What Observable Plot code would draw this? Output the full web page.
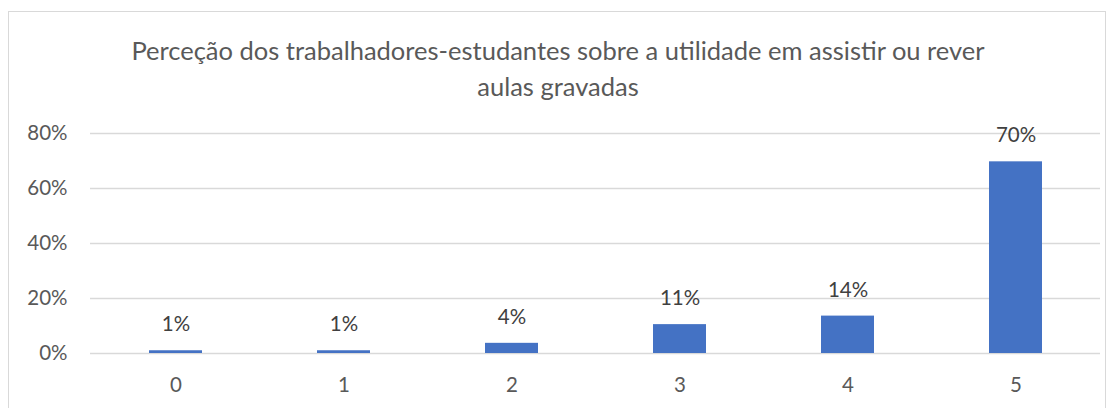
<!DOCTYPE html>
<html><head><meta charset="utf-8">
<script src="https://cdn.jsdelivr.net/npm/d3@7"></script>
<script src="https://cdn.jsdelivr.net/npm/@observablehq/plot@0.6"></script>
<style>
body{margin:0;background:#fff;font-family:Lato,"Noto Sans",sans-serif;}
#wrap{position:relative;width:1116px;height:408px;overflow:hidden;}
#frame{position:absolute;left:8px;top:11px;width:1098px;height:420px;border:1px solid #d9d9d9;box-sizing:border-box;}
#title{position:absolute;left:0;top:0;width:1116px;height:110px;text-align:center;color:#595959;font-size:25.5px;line-height:36px;padding-top:32px;box-sizing:border-box;}
#chart{position:absolute;left:0;top:110px;}
</style></head>
<body><div id="wrap"><div id="frame"></div>
<div id="title">Perceção dos trabalhadores-estudantes sobre a utilidade em assistir ou rever<br>aulas gravadas</div>
<div id="chart"></div></div>
<script>
const categories = ["0","1","2","3","4","5"];
const values = [0.010, 0.010, 0.037, 0.105, 0.136, 0.697];
const labels = ["1%","1%","4%","11%","14%","70%"];
const yTicks = [0, 0.2, 0.4, 0.6, 0.8];
const data = categories.map((c,i)=>({c, v: values[i], l: labels[i]}));
const plot = Plot.plot({
  width: 1116, height: 298,
  marginLeft: 90, marginRight: 16, marginTop: 23, marginBottom: 55,
  style: {fontFamily: "Lato, 'Noto Sans', sans-serif", fontSize: "20.5px", color: "#595959", background: "transparent"},
  x: {domain: categories, paddingInner: 0.685, paddingOuter: 0.3425, label: null, tickSize: 0, tickPadding: 24},
  y: {domain: [0, 0.8], ticks: yTicks, tickFormat: d => Math.round(d*100) + "%", label: null, tickSize: 0, tickPadding: 23},
  marks: [
    Plot.gridY(yTicks, {stroke: "#d9d9d9", strokeOpacity: 1, strokeWidth: 1.3}),
    Plot.barY(data, {x: "c", y: "v", fill: "#4472c4"}),
    Plot.text(data, {x: "c", y: "v", text: "l", dy: -26, fill: "#404040", fontSize: 20.5}),
  ]
});
document.getElementById("chart").appendChild(plot);
</script></body></html>
